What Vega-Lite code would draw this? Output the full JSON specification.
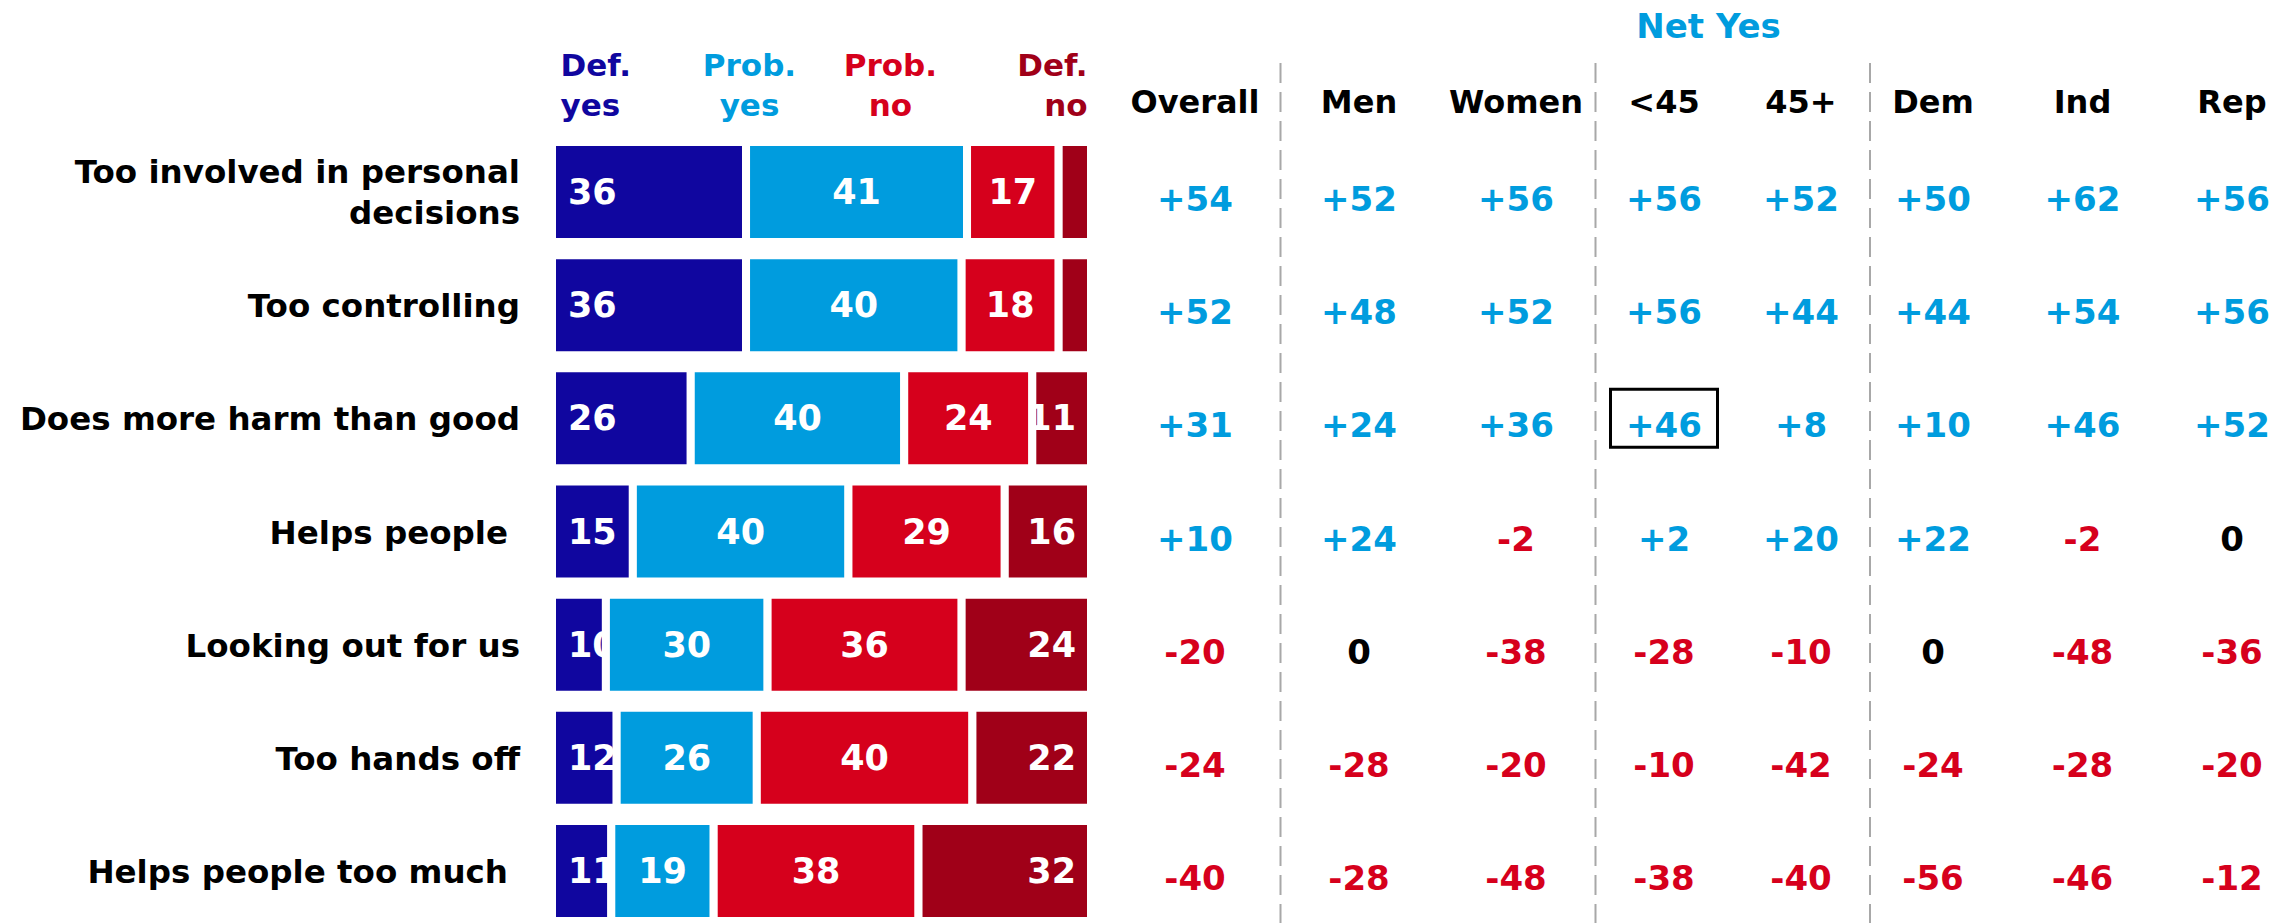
{
 "$schema": "https://vega.github.io/schema/vega-lite/v6.json",
 "width": 1739,
 "height": 860,
 "autosize": {"type": "none"},
 "padding": {"left": 556, "top": 63, "right": 0, "bottom": 0},
 "background": "white",
 "config": {"font": "DejaVu Sans", "view": {"stroke": null},
  "locale": {"number": {"decimal": ".", "thousands": ",", "grouping": [3], "currency": ["$", ""], "minus": "-"}}},
 "datasets": {
  "bars": [
   {"row": "Too involved in personal decisions", "cat": "Def. yes", "k": 1, "v": 36},
   {"row": "Too involved in personal decisions", "cat": "Prob. yes", "k": 2, "v": 41},
   {"row": "Too involved in personal decisions", "cat": "Prob. no", "k": 3, "v": 17},
   {"row": "Too involved in personal decisions", "cat": "Def. no", "k": 4, "v": 6},
   {"row": "Too controlling", "cat": "Def. yes", "k": 1, "v": 36},
   {"row": "Too controlling", "cat": "Prob. yes", "k": 2, "v": 40},
   {"row": "Too controlling", "cat": "Prob. no", "k": 3, "v": 18},
   {"row": "Too controlling", "cat": "Def. no", "k": 4, "v": 6},
   {"row": "Does more harm than good", "cat": "Def. yes", "k": 1, "v": 26},
   {"row": "Does more harm than good", "cat": "Prob. yes", "k": 2, "v": 40},
   {"row": "Does more harm than good", "cat": "Prob. no", "k": 3, "v": 24},
   {"row": "Does more harm than good", "cat": "Def. no", "k": 4, "v": 11},
   {"row": "Helps people", "cat": "Def. yes", "k": 1, "v": 15},
   {"row": "Helps people", "cat": "Prob. yes", "k": 2, "v": 40},
   {"row": "Helps people", "cat": "Prob. no", "k": 3, "v": 29},
   {"row": "Helps people", "cat": "Def. no", "k": 4, "v": 16},
   {"row": "Looking out for us", "cat": "Def. yes", "k": 1, "v": 10},
   {"row": "Looking out for us", "cat": "Prob. yes", "k": 2, "v": 30},
   {"row": "Looking out for us", "cat": "Prob. no", "k": 3, "v": 36},
   {"row": "Looking out for us", "cat": "Def. no", "k": 4, "v": 24},
   {"row": "Too hands off", "cat": "Def. yes", "k": 1, "v": 12},
   {"row": "Too hands off", "cat": "Prob. yes", "k": 2, "v": 26},
   {"row": "Too hands off", "cat": "Prob. no", "k": 3, "v": 40},
   {"row": "Too hands off", "cat": "Def. no", "k": 4, "v": 22},
   {"row": "Helps people too much", "cat": "Def. yes", "k": 1, "v": 11},
   {"row": "Helps people too much", "cat": "Prob. yes", "k": 2, "v": 19},
   {"row": "Helps people too much", "cat": "Prob. no", "k": 3, "v": 38},
   {"row": "Helps people too much", "cat": "Def. no", "k": 4, "v": 32}
  ],
  "net": [
   {"row": "Too involved in personal decisions", "c": "Overall", "n": 54},
   {"row": "Too involved in personal decisions", "c": "Men", "n": 52},
   {"row": "Too involved in personal decisions", "c": "Women", "n": 56},
   {"row": "Too involved in personal decisions", "c": "<45", "n": 56},
   {"row": "Too involved in personal decisions", "c": "45+", "n": 52},
   {"row": "Too involved in personal decisions", "c": "Dem", "n": 50},
   {"row": "Too involved in personal decisions", "c": "Ind", "n": 62},
   {"row": "Too involved in personal decisions", "c": "Rep", "n": 56},
   {"row": "Too controlling", "c": "Overall", "n": 52},
   {"row": "Too controlling", "c": "Men", "n": 48},
   {"row": "Too controlling", "c": "Women", "n": 52},
   {"row": "Too controlling", "c": "<45", "n": 56},
   {"row": "Too controlling", "c": "45+", "n": 44},
   {"row": "Too controlling", "c": "Dem", "n": 44},
   {"row": "Too controlling", "c": "Ind", "n": 54},
   {"row": "Too controlling", "c": "Rep", "n": 56},
   {"row": "Does more harm than good", "c": "Overall", "n": 31},
   {"row": "Does more harm than good", "c": "Men", "n": 24},
   {"row": "Does more harm than good", "c": "Women", "n": 36},
   {"row": "Does more harm than good", "c": "<45", "n": 46},
   {"row": "Does more harm than good", "c": "45+", "n": 8},
   {"row": "Does more harm than good", "c": "Dem", "n": 10},
   {"row": "Does more harm than good", "c": "Ind", "n": 46},
   {"row": "Does more harm than good", "c": "Rep", "n": 52},
   {"row": "Helps people", "c": "Overall", "n": 10},
   {"row": "Helps people", "c": "Men", "n": 24},
   {"row": "Helps people", "c": "Women", "n": -2},
   {"row": "Helps people", "c": "<45", "n": 2},
   {"row": "Helps people", "c": "45+", "n": 20},
   {"row": "Helps people", "c": "Dem", "n": 22},
   {"row": "Helps people", "c": "Ind", "n": -2},
   {"row": "Helps people", "c": "Rep", "n": 0},
   {"row": "Looking out for us", "c": "Overall", "n": -20},
   {"row": "Looking out for us", "c": "Men", "n": 0},
   {"row": "Looking out for us", "c": "Women", "n": -38},
   {"row": "Looking out for us", "c": "<45", "n": -28},
   {"row": "Looking out for us", "c": "45+", "n": -10},
   {"row": "Looking out for us", "c": "Dem", "n": 0},
   {"row": "Looking out for us", "c": "Ind", "n": -48},
   {"row": "Looking out for us", "c": "Rep", "n": -36},
   {"row": "Too hands off", "c": "Overall", "n": -24},
   {"row": "Too hands off", "c": "Men", "n": -28},
   {"row": "Too hands off", "c": "Women", "n": -20},
   {"row": "Too hands off", "c": "<45", "n": -10},
   {"row": "Too hands off", "c": "45+", "n": -42},
   {"row": "Too hands off", "c": "Dem", "n": -24},
   {"row": "Too hands off", "c": "Ind", "n": -28},
   {"row": "Too hands off", "c": "Rep", "n": -20},
   {"row": "Helps people too much", "c": "Overall", "n": -40},
   {"row": "Helps people too much", "c": "Men", "n": -28},
   {"row": "Helps people too much", "c": "Women", "n": -48},
   {"row": "Helps people too much", "c": "<45", "n": -38},
   {"row": "Helps people too much", "c": "45+", "n": -40},
   {"row": "Helps people too much", "c": "Dem", "n": -56},
   {"row": "Helps people too much", "c": "Ind", "n": -46},
   {"row": "Helps people too much", "c": "Rep", "n": -12}
  ],
  "seps": [{"c": "Men"}, {"c": "<45"}, {"c": "Dem"}],
  "hl": [{"row": "Does more harm than good", "c": "<45"}]
 },
 "layer": [
  {
   "data": {"name": "bars"},
   "transform": [
    {"stack": "v", "groupby": ["row"], "sort": [{"field": "k", "order": "ascending"}], "offset": "normalize", "as": ["x0", "x1"]},
    {"filter": "datum.k == 1"}
   ],
   "mark": {"type": "bar", "stroke": "white", "strokeWidth": 8},
   "encoding": {
    "x": {"field": "x0", "type": "quantitative", "scale": {"domain": [0, 1], "range": [-4, 535], "nice": false, "zero": false},
     "axis": {"orient": "top", "values": [0.015, 0.3655, 0.627, 0.9926], "title": null, "domain": false, "ticks": false, "tickSize": 0, "grid": false,
      "labelPadding": -12, "labelBaseline": "alphabetic", "labelFontSize": 31, "labelFontWeight": "bold", "labelLineHeight": 40,
      "labelOverlap": false, "labelFlush": false, "labelLimit": 0, "labelAngle": 0,
      "labelExpr": "datum.value < 0.1 ? ['Def.', 'yes'] : datum.value < 0.5 ? ['Prob.', 'yes'] : datum.value < 0.9 ? ['Prob.', 'no'] : ['Def.', 'no']",
      "labelColor": {"condition": [{"test": "datum.value < 0.1", "value": "#10069F"}, {"test": "datum.value < 0.5", "value": "#009CDE"}, {"test": "datum.value < 0.9", "value": "#D6001C"}], "value": "#A00018"},
      "labelAlign": {"condition": [{"test": "datum.value < 0.1", "value": "left"}, {"test": "datum.value > 0.9", "value": "right"}], "value": "center"}
     }},
    "x2": {"field": "x1"},
    "y": {"field": "row", "type": "nominal",
     "sort": ["Too involved in personal decisions", "Too controlling", "Does more harm than good", "Helps people", "Looking out for us", "Too hands off", "Helps people too much"],
     "scale": {"range": [79, 858], "paddingInner": 0.116, "paddingOuter": 0}, "axis": null},
    "color": {"field": "cat", "type": "nominal", "scale": {"domain": ["Def. yes", "Prob. yes", "Prob. no", "Def. no"], "range": ["#10069F", "#009CDE", "#D6001C", "#A00018"]}, "legend": null}
   }
  },
  {
   "data": {"name": "bars"},
   "transform": [
    {"stack": "v", "groupby": ["row"], "sort": [{"field": "k", "order": "ascending"}], "offset": "normalize", "as": ["x0", "x1"]},
    {"filter": "datum.k == 1"}
   ],
   "mark": {"type": "text", "align": "left", "baseline": "middle", "dx": 16, "dy": 1, "fill": "white", "fontSize": 35, "fontWeight": "bold"},
   "encoding": {
    "x": {"field": "x0", "type": "quantitative", "scale": {"domain": [0, 1], "range": [-4, 535], "nice": false, "zero": false}, "axis": null},
    "y": {"field": "row", "type": "nominal",
     "sort": ["Too involved in personal decisions", "Too controlling", "Does more harm than good", "Helps people", "Looking out for us", "Too hands off", "Helps people too much"],
     "scale": {"range": [79, 858], "paddingInner": 0.116, "paddingOuter": 0}, "axis": null},
    "text": {"field": "v", "type": "quantitative"}
   }
  },
  {
   "data": {"name": "bars"},
   "transform": [
    {"stack": "v", "groupby": ["row"], "sort": [{"field": "k", "order": "ascending"}], "offset": "normalize", "as": ["x0", "x1"]},
    {"filter": "datum.k == 1 && datum.row != 'Too involved in personal decisions' && datum.row != 'Helps people' && datum.row != 'Helps people too much'"}
   ],
   "mark": {"type": "text", "align": "right", "baseline": "middle", "dx": -32, "dy": 2, "fill": "black", "fontSize": 32.5, "fontWeight": "bold"},
   "encoding": {
    "x": {"field": "x0", "type": "quantitative", "scale": {"domain": [0, 1], "range": [-4, 535], "nice": false, "zero": false}, "axis": null},
    "y": {"field": "row", "type": "nominal",
     "sort": ["Too involved in personal decisions", "Too controlling", "Does more harm than good", "Helps people", "Looking out for us", "Too hands off", "Helps people too much"],
     "scale": {"range": [79, 858], "paddingInner": 0.116, "paddingOuter": 0}, "axis": null},
    "text": {"field": "row", "type": "nominal"}
   }
  },
  {
   "data": {"name": "bars"},
   "transform": [
    {"stack": "v", "groupby": ["row"], "sort": [{"field": "k", "order": "ascending"}], "offset": "normalize", "as": ["x0", "x1"]},
    {"filter": "datum.k == 1 && (datum.row == 'Helps people' || datum.row == 'Helps people too much')"}
   ],
   "mark": {"type": "text", "align": "right", "baseline": "middle", "dx": -44, "dy": 2, "fill": "black", "fontSize": 32.5, "fontWeight": "bold"},
   "encoding": {
    "x": {"field": "x0", "type": "quantitative", "scale": {"domain": [0, 1], "range": [-4, 535], "nice": false, "zero": false}, "axis": null},
    "y": {"field": "row", "type": "nominal",
     "sort": ["Too involved in personal decisions", "Too controlling", "Does more harm than good", "Helps people", "Looking out for us", "Too hands off", "Helps people too much"],
     "scale": {"range": [79, 858], "paddingInner": 0.116, "paddingOuter": 0}, "axis": null},
    "text": {"field": "row", "type": "nominal"}
   }
  },
  {
   "data": {"name": "bars"},
   "transform": [
    {"stack": "v", "groupby": ["row"], "sort": [{"field": "k", "order": "ascending"}], "offset": "normalize", "as": ["x0", "x1"]},
    {"filter": "datum.k == 1 && datum.row == 'Too involved in personal decisions'"}
   ],
   "mark": {"type": "text", "align": "right", "baseline": "middle", "dx": -32, "dy": -19, "fill": "black", "fontSize": 32.5, "fontWeight": "bold", "lineHeight": 41},
   "encoding": {
    "x": {"field": "x0", "type": "quantitative", "scale": {"domain": [0, 1], "range": [-4, 535], "nice": false, "zero": false}, "axis": null},
    "y": {"field": "row", "type": "nominal",
     "sort": ["Too involved in personal decisions", "Too controlling", "Does more harm than good", "Helps people", "Looking out for us", "Too hands off", "Helps people too much"],
     "scale": {"range": [79, 858], "paddingInner": 0.116, "paddingOuter": 0}, "axis": null},
    "text": {"condition": {"test": "datum.row == 'Too involved in personal decisions'", "value": ["Too involved in personal", "decisions"]}, "field": "row", "type": "nominal"}
   }
  },
  {
   "data": {"name": "bars"},
   "transform": [
    {"stack": "v", "groupby": ["row"], "sort": [{"field": "k", "order": "ascending"}], "offset": "normalize", "as": ["x0", "x1"]},
    {"filter": "datum.k != 1"}
   ],
   "mark": {"type": "bar", "stroke": "white", "strokeWidth": 8},
   "encoding": {
    "x": {"field": "x0", "type": "quantitative", "scale": {"domain": [0, 1], "range": [-4, 535], "nice": false, "zero": false}, "axis": null},
    "x2": {"field": "x1"},
    "y": {"field": "row", "type": "nominal",
     "sort": ["Too involved in personal decisions", "Too controlling", "Does more harm than good", "Helps people", "Looking out for us", "Too hands off", "Helps people too much"],
     "scale": {"range": [79, 858], "paddingInner": 0.116, "paddingOuter": 0}, "axis": null},
    "color": {"field": "cat", "type": "nominal", "scale": {"domain": ["Def. yes", "Prob. yes", "Prob. no", "Def. no"], "range": ["#10069F", "#009CDE", "#D6001C", "#A00018"]}, "legend": null}
   }
  },
  {
   "data": {"name": "bars"},
   "mark": {"type": "text", "align": "center", "baseline": "middle", "dy": 1, "fill": "white", "fontSize": 35, "fontWeight": "bold"},
   "encoding": {
    "x": {"field": "v", "type": "quantitative", "stack": "normalize", "bandPosition": 0.5, "scale": {"domain": [0, 1], "range": [-4, 535], "nice": false, "zero": false}, "axis": null},
    "y": {"field": "row", "type": "nominal",
     "sort": ["Too involved in personal decisions", "Too controlling", "Does more harm than good", "Helps people", "Looking out for us", "Too hands off", "Helps people too much"],
     "scale": {"range": [79, 858], "paddingInner": 0.116, "paddingOuter": 0}, "axis": null},
    "detail": {"field": "cat", "type": "nominal"},
    "order": {"field": "k", "type": "quantitative"},
    "text": {"condition": {"test": "datum.k == 1 || datum.k == 4", "value": ""}, "field": "v", "type": "quantitative"}
   }
  },
  {
   "data": {"name": "bars"},
   "transform": [
    {"stack": "v", "groupby": ["row"], "sort": [{"field": "k", "order": "ascending"}], "offset": "normalize", "as": ["x0", "x1"]},
    {"filter": "datum.k == 4 && datum.v >= 8"}
   ],
   "mark": {"type": "text", "align": "right", "baseline": "middle", "dx": -15, "dy": 1, "fill": "white", "fontSize": 35, "fontWeight": "bold"},
   "encoding": {
    "x": {"field": "x1", "type": "quantitative", "scale": {"domain": [0, 1], "range": [-4, 535], "nice": false, "zero": false}, "axis": null},
    "y": {"field": "row", "type": "nominal",
     "sort": ["Too involved in personal decisions", "Too controlling", "Does more harm than good", "Helps people", "Looking out for us", "Too hands off", "Helps people too much"],
     "scale": {"range": [79, 858], "paddingInner": 0.116, "paddingOuter": 0}, "axis": null},
    "text": {"field": "v", "type": "quantitative"}
   }
  },
  {
   "data": {"name": "seps"},
   "transform": [{"filter": "datum.c == 'Men'"}],
   "mark": {"type": "rule", "stroke": "#A8A8A8", "strokeWidth": 2, "strokeDash": [20, 9]},
   "encoding": {
    "x": {"field": "c", "type": "nominal", "bandPosition": 0,
     "scale": {"type": "band", "domain": ["Men", "Women"], "range": [724.5, 1038.5], "paddingInner": 0, "paddingOuter": 0}, "axis": null}
   }
  },
  {
   "data": {"name": "seps"},
   "transform": [{"filter": "datum.c == '<45'"}],
   "mark": {"type": "rule", "stroke": "#A8A8A8", "strokeWidth": 2, "strokeDash": [20, 9]},
   "encoding": {
    "x": {"field": "c", "type": "nominal", "bandPosition": 0,
     "scale": {"type": "band", "domain": ["<45", "45+"], "range": [1039.5, 1313.5], "paddingInner": 0, "paddingOuter": 0}, "axis": null}
   }
  },
  {
   "data": {"name": "seps"},
   "transform": [{"filter": "datum.c == 'Dem'"}],
   "mark": {"type": "rule", "stroke": "#A8A8A8", "strokeWidth": 2, "strokeDash": [20, 9]},
   "encoding": {
    "x": {"field": "c", "type": "nominal", "bandPosition": 0,
     "scale": {"type": "band", "domain": ["Dem", "Ind", "Rep"], "range": [1314, 1739], "paddingInner": 0.157, "paddingOuter": 0}, "axis": null}
   }
  },
  {
   "data": {"name": "net"},
   "transform": [{"filter": "datum.c == 'Overall'"}],
   "mark": {"type": "text", "align": "center", "baseline": "middle", "dy": 9, "fontSize": 34, "fontWeight": "bold"},
   "encoding": {
    "x": {"field": "c", "type": "nominal",
     "scale": {"type": "band", "domain": ["Overall"], "range": [564, 714], "paddingInner": 0, "paddingOuter": 0},
     "axis": {"orient": "top", "title": "Net Yes", "titleColor": "#009CDE", "titleFontSize": 34, "titleFontWeight": "bold",
      "titleX": 1152, "titleY": -26, "titleBaseline": "alphabetic", "titleAlign": "center", "titleAngle": 0,
      "domain": false, "ticks": false, "tickSize": 0, "grid": false,
      "labelPadding": -49, "labelBaseline": "alphabetic", "labelFontSize": 32, "labelFontWeight": "bold", "labelColor": "black",
      "labelAngle": 0, "labelAlign": "center", "labelOverlap": false, "labelFlush": false, "labelLimit": 0}},
    "y": {"field": "row", "type": "nominal",
     "sort": ["Too involved in personal decisions", "Too controlling", "Does more harm than good", "Helps people", "Looking out for us", "Too hands off", "Helps people too much"],
     "scale": {"range": [79, 858], "paddingInner": 0.116, "paddingOuter": 0}, "axis": null},
    "text": {"condition": {"test": "datum.n === 0", "value": "0"}, "field": "n", "type": "quantitative", "format": "+d"},
    "color": {"condition": [{"test": "datum.n > 0", "value": "#009CDE"}, {"test": "datum.n < 0", "value": "#D6001C"}], "value": "black"}
   }
  },
  {
   "data": {"name": "net"},
   "transform": [{"filter": "datum.c == 'Men' || datum.c == 'Women'"}],
   "mark": {"type": "text", "align": "center", "baseline": "middle", "dy": 9, "fontSize": 34, "fontWeight": "bold"},
   "encoding": {
    "x": {"field": "c", "type": "nominal",
     "scale": {"type": "band", "domain": ["Men", "Women"], "range": [724.5, 1038.5], "paddingInner": 0, "paddingOuter": 0},
     "axis": {"orient": "top", "title": null, "domain": false, "ticks": false, "tickSize": 0, "grid": false,
      "labelPadding": -49, "labelBaseline": "alphabetic", "labelFontSize": 32, "labelFontWeight": "bold", "labelColor": "black",
      "labelAngle": 0, "labelAlign": "center", "labelOverlap": false, "labelFlush": false, "labelLimit": 0}},
    "y": {"field": "row", "type": "nominal",
     "sort": ["Too involved in personal decisions", "Too controlling", "Does more harm than good", "Helps people", "Looking out for us", "Too hands off", "Helps people too much"],
     "scale": {"range": [79, 858], "paddingInner": 0.116, "paddingOuter": 0}, "axis": null},
    "text": {"condition": {"test": "datum.n === 0", "value": "0"}, "field": "n", "type": "quantitative", "format": "+d"},
    "color": {"condition": [{"test": "datum.n > 0", "value": "#009CDE"}, {"test": "datum.n < 0", "value": "#D6001C"}], "value": "black"}
   }
  },
  {
   "data": {"name": "net"},
   "transform": [{"filter": "datum.c == '<45' || datum.c == '45+'"}],
   "mark": {"type": "text", "align": "center", "baseline": "middle", "dy": 9, "fontSize": 34, "fontWeight": "bold"},
   "encoding": {
    "x": {"field": "c", "type": "nominal",
     "scale": {"type": "band", "domain": ["<45", "45+"], "range": [1039.5, 1313.5], "paddingInner": 0, "paddingOuter": 0},
     "axis": {"orient": "top", "title": null, "domain": false, "ticks": false, "tickSize": 0, "grid": false,
      "labelPadding": -49, "labelBaseline": "alphabetic", "labelFontSize": 32, "labelFontWeight": "bold", "labelColor": "black",
      "labelAngle": 0, "labelAlign": "center", "labelOverlap": false, "labelFlush": false, "labelLimit": 0}},
    "y": {"field": "row", "type": "nominal",
     "sort": ["Too involved in personal decisions", "Too controlling", "Does more harm than good", "Helps people", "Looking out for us", "Too hands off", "Helps people too much"],
     "scale": {"range": [79, 858], "paddingInner": 0.116, "paddingOuter": 0}, "axis": null},
    "text": {"condition": {"test": "datum.n === 0", "value": "0"}, "field": "n", "type": "quantitative", "format": "+d"},
    "color": {"condition": [{"test": "datum.n > 0", "value": "#009CDE"}, {"test": "datum.n < 0", "value": "#D6001C"}], "value": "black"}
   }
  },
  {
   "data": {"name": "net"},
   "transform": [{"filter": "datum.c == 'Dem' || datum.c == 'Ind' || datum.c == 'Rep'"}],
   "mark": {"type": "text", "align": "center", "baseline": "middle", "dy": 9, "fontSize": 34, "fontWeight": "bold"},
   "encoding": {
    "x": {"field": "c", "type": "nominal",
     "scale": {"type": "band", "domain": ["Dem", "Ind", "Rep"], "range": [1314, 1739], "paddingInner": 0.157, "paddingOuter": 0},
     "axis": {"orient": "top", "title": null, "domain": false, "ticks": false, "tickSize": 0, "grid": false,
      "labelPadding": -49, "labelBaseline": "alphabetic", "labelFontSize": 32, "labelFontWeight": "bold", "labelColor": "black",
      "labelAngle": 0, "labelAlign": "center", "labelOverlap": false, "labelFlush": false, "labelLimit": 0}},
    "y": {"field": "row", "type": "nominal",
     "sort": ["Too involved in personal decisions", "Too controlling", "Does more harm than good", "Helps people", "Looking out for us", "Too hands off", "Helps people too much"],
     "scale": {"range": [79, 858], "paddingInner": 0.116, "paddingOuter": 0}, "axis": null},
    "text": {"condition": {"test": "datum.n === 0", "value": "0"}, "field": "n", "type": "quantitative", "format": "+d"},
    "color": {"condition": [{"test": "datum.n > 0", "value": "#009CDE"}, {"test": "datum.n < 0", "value": "#D6001C"}], "value": "black"}
   }
  },
  {
   "data": {"name": "hl"},
   "mark": {"type": "bar", "width": 107, "height": 58, "filled": false, "stroke": "black", "strokeWidth": 3},
   "encoding": {
    "x": {"field": "c", "type": "nominal",
     "scale": {"type": "band", "domain": ["<45", "45+"], "range": [1039.5, 1313.5], "paddingInner": 0, "paddingOuter": 0}, "axis": null},
    "y": {"field": "row", "type": "nominal",
     "sort": ["Too involved in personal decisions", "Too controlling", "Does more harm than good", "Helps people", "Looking out for us", "Too hands off", "Helps people too much"],
     "scale": {"range": [79, 858], "paddingInner": 0.116, "paddingOuter": 0}, "axis": null}
   }
  }
 ],
 "resolve": {"scale": {"x": "independent"}, "axis": {"x": "independent"}}
}
